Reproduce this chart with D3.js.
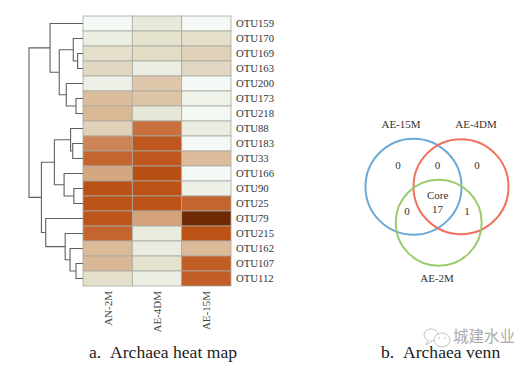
<!DOCTYPE html>
<html>
<head>
<meta charset="utf-8">
<script src="https://cdnjs.cloudflare.com/ajax/libs/d3/7.8.5/d3.min.js"></script>
<style>
html, body {margin: 0; padding: 0; background: #fff;}
svg {display: block;}
text {font-family: "Liberation Serif", serif;}
</style>
</head>
<body>
<div id="chart-area"></div>
<script>
const samples = ['AN-2M', 'AE-4DM', 'AE-15M'];
const otus = ['OTU159', 'OTU170', 'OTU169', 'OTU163', 'OTU200', 'OTU173', 'OTU218', 'OTU88', 'OTU183',
    'OTU33', 'OTU166', 'OTU90', 'OTU25', 'OTU79', 'OTU215', 'OTU162', 'OTU107', 'OTU112'];
const an2m = [0, 0.8, 1.9, 2.2, 0.7, 3, 3.2, 2.4, 4.6, 5.4, 3.8, 6.1, 6, 5.9, 5.4, 3.1, 3.2, 1.9];
const ae4dm = [1.2, 1.8, 2.1, 0.8, 2.7, 2.8, 1.4, 5, 5.8, 5.8, 6.2, 6, 6, 4, 1.1, 1, 1.8, 0.8];
const ae15m = [0, 2, 2.4, 2.2, 0, 0.5, 0.1, 1, 0, 3, 0, 0.6, 5.4, 10, 6, 3.1, 5.6, 5.6];

const colorStops = [0, 1, 2, 3, 4, 5, 6, 10];
const colorRange = ['#f4f9f5', '#e9ecdf', '#e4dfca', '#dbbd9c', '#d4a279', '#c9703f', '#bc5216', '#6e2a05'];

// hclust style merges: [left child, right child, distance], a string is a leaf, a number an earlier merge
const merges = [
    ['OTU169', 'OTU163', 0.10],
    ['OTU170', 0, 0.18],
    ['OTU173', 'OTU218', 0.13],
    ['OTU200', 2, 0.31],
    [1, 3, 0.44],
    ['OTU159', 4, 0.61],
    ['OTU183', 'OTU33', 0.19],
    ['OTU88', 6, 0.23],
    ['OTU90', 'OTU25', 0.17],
    ['OTU166', 8, 0.35],
    [7, 9, 0.53],
    ['OTU107', 'OTU112', 0.13],
    ['OTU162', 11, 0.24],
    ['OTU215', 12, 0.33],
    ['OTU79', 13, 0.69],
    [10, 14, 0.77],
    [5, 15, 1]
];

const vennSets = ['AE-15M', 'AE-4DM', 'AE-2M'];
const vennColors = ['#6aa9d8', '#f0705c', '#9ccb6c'];
const vennCounts = ['0', '0', '0', '0', '1'];
const coreLabel = ['Core', '17'];
const captions = ['a.\u00a0\u00a0Archaea heat map', 'b.\u00a0\u00a0Archaea venn'];

const svg = d3.select('#chart-area')
    .append('svg')
    .attr('width', 529)
    .attr('height', 379);

const x = d3.scaleBand().domain(samples).range([83, 231]);
const y = d3.scaleBand().domain(otus).range([16, 286]);
const color = d3.scaleLinear().domain(colorStops).range(colorRange);
const dist = d3.scaleLinear().domain([0, 1]).range([83, 29]);

// heat map
const columns = [an2m, ae4dm, ae15m];
const cells = [];
samples.forEach((s, i) => {
    otus.forEach((o, j) => cells.push({sample: s, otu: o, value: columns[i][j]}));
});

svg.append('g')
    .selectAll('rect')
    .data(cells)
    .enter()
    .append('rect')
        .attr('x', d => x(d.sample))
        .attr('y', d => y(d.otu))
        .attr('width', x.bandwidth())
        .attr('height', y.bandwidth())
        .attr('fill', d => color(d.value))
        .attr('stroke', '#a9a9a2')
        .attr('stroke-width', 0.8);

svg.append('g')
    .selectAll('text')
    .data(otus)
    .enter()
    .append('text')
        .attr('x', 236)
        .attr('y', d => y(d) + y.bandwidth() / 2 + 3.8)
        .attr('font-size', '10.7px')
        .attr('fill', '#333')
        .text(d => d);

svg.append('g')
    .selectAll('text')
    .data(samples)
    .enter()
    .append('text')
        .attr('transform', d => `translate(${x(d) + x.bandwidth() / 2 + 4}, 291) rotate(-90)`)
        .attr('text-anchor', 'end')
        .attr('font-size', '11px')
        .attr('fill', '#444')
        .text(d => d);

// dendrogram
const nodes = [];
const resolve = (c) => typeof c === 'string'
    ? {pos: y(c) + y.bandwidth() / 2, d: 0}
    : nodes[c];
const tree = svg.append('g')
    .attr('fill', 'none')
    .attr('stroke', '#606060')
    .attr('stroke-width', 1.1);
merges.forEach((m) => {
    const a = resolve(m[0]);
    const b = resolve(m[1]);
    const d = m[2];
    nodes.push({pos: (a.pos + b.pos) / 2, d: d});
    tree.append('path')
        .attr('d', `M${dist(a.d)},${a.pos}H${dist(d)}V${b.pos}H${dist(b.d)}`);
});

// venn
const venn = {cx: [413.5, 461, 438.7], cy: [186.7, 186.7, 222.7], r: [48, 47.5, 43]};
svg.append('g')
    .selectAll('circle')
    .data(vennSets)
    .enter()
    .append('circle')
        .attr('cx', (d, i) => venn.cx[i])
        .attr('cy', (d, i) => venn.cy[i])
        .attr('r', (d, i) => venn.r[i])
        .attr('fill', 'none')
        .attr('stroke', (d, i) => vennColors[i])
        .attr('stroke-width', 2);

const setLabelPos = [[401, 128], [476, 128], [437, 282]];
svg.append('g')
    .selectAll('text')
    .data(vennSets)
    .enter()
    .append('text')
        .attr('x', (d, i) => setLabelPos[i][0])
        .attr('y', (d, i) => setLabelPos[i][1])
        .attr('text-anchor', 'middle')
        .attr('font-size', '11px')
        .attr('fill', '#333')
        .text(d => d);

const countPos = [[398, 169], [437.6, 169], [477, 169], [407, 215], [467, 215]];
svg.append('g')
    .selectAll('text')
    .data(vennCounts)
    .enter()
    .append('text')
        .attr('x', (d, i) => countPos[i][0])
        .attr('y', (d, i) => countPos[i][1])
        .attr('text-anchor', 'middle')
        .attr('font-size', '11px')
        .attr('fill', '#333')
        .text(d => d);

svg.append('g')
    .selectAll('text')
    .data(coreLabel)
    .enter()
    .append('text')
        .attr('x', 437.6)
        .attr('y', (d, i) => 199 + i * 13.5)
        .attr('text-anchor', 'middle')
        .attr('font-size', '11px')
        .attr('fill', '#333')
        .text(d => d);

// watermark sits just above the caption
const mark = svg.append('g').attr('fill', '#fff').attr('stroke', '#c4c4c4').attr('stroke-width', 1);
mark.append('ellipse').attr('cx', 431).attr('cy', 335).attr('rx', 7).attr('ry', 6);
mark.append('ellipse').attr('cx', 442).attr('cy', 340).attr('rx', 8).attr('ry', 7);
mark.append('path').attr('d', 'M428,340L426,345L432,341');
mark.append('circle').attr('cx', 439).attr('cy', 338).attr('r', 0.8).attr('fill', '#b0b0b0').attr('stroke', 'none');
mark.append('circle').attr('cx', 445).attr('cy', 338).attr('r', 0.8).attr('fill', '#b0b0b0').attr('stroke', 'none');
svg.append('text')
    .attr('x', 453)
    .attr('y', 342)
    .attr('font-size', '15.5px')
    .style('font-family', '"Noto Sans CJK SC"')
    .attr('fill', '#ababab')
    .text('城建水业');

const captionX = [89, 381];
svg.append('g')
    .selectAll('text')
    .data(captions)
    .enter()
    .append('text')
        .attr('x', (d, i) => captionX[i])
        .attr('y', 358)
        .attr('font-size', '17.6px')
        .attr('fill', '#222')
        .text(d => d);
</script>
</body>
</html>
